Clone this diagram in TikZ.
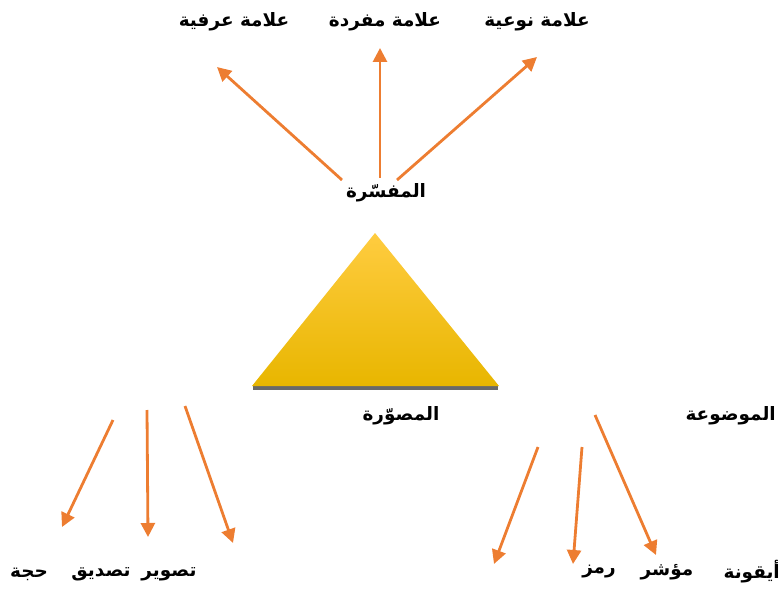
\documentclass[tikz,border=0pt]{standalone}
\usepackage{fontspec}
\usepackage{tikz}
\usetikzlibrary{arrows.meta,positioning}
\TeXXeTstate=1
\newfontfamily\arabicfont[Script=Arabic]{DejaVu Sans}
\definecolor{arrorange}{RGB}{237,125,49}
\definecolor{triatop}{RGB}{255,204,64}
\definecolor{triamid}{RGB}{255,194,0}
\definecolor{triabot}{RGB}{232,182,0}
\definecolor{shadowgray}{RGB}{105,105,105}
\tikzset{
  ar/.style={draw=arrorange, line width=2.8bp, -{Triangle[length=14bp,width=14bp]}},
  lbl/.style={font=\arabicfont\bfseries\fontsize{18.5}{22}\selectfont, inner sep=0pt}
}

\begin{document}
\begin{tikzpicture}[x=1bp,y=-1bp]
  \useasboundingbox (0,0) rectangle (783,593);
  % triangle with shadow
  \fill[shadowgray] (253,386) rectangle (498,390);
  \shade[top color=triatop, middle color=triamid, bottom color=triabot] (375,233) -- (499,386) -- (252,386) -- cycle;
  % labels
  \node[lbl] (orfia)  at (234,22)  {\beginR علامة عرفية\endR};
  \node[lbl] (mufrada) at (385,22) {\beginR علامة مفردة\endR};
  \node[lbl] (nawia)  at (537,22)  {\beginR علامة نوعية\endR};
  \node[lbl] (mufassira) at (386,193) {\beginR المفسّرة\endR};
  \node[lbl] (musawwira) at (401,416) {\beginR المصوّرة\endR};
  \node[lbl, anchor=east] (mawdua) at (776,416) {\beginR الموضوعة\endR};
  \node[lbl] (hujja)   at (29,574)  {\beginR حجة\endR};
  \node[lbl] (tasdiq)  at (101,574) {\beginR تصديق\endR};
  \node[lbl] (taswir)  at (169,574) {\beginR تصوير\endR};
  \node[lbl] (ramz)    at (599,572) {\beginR رمز\endR};
  \node[lbl] (muashir) at (667,572) {\beginR مؤشر\endR};
  \node[lbl, anchor=east] (ayquna) at (780,572) {\beginR أيقونة\endR};
  % arrow ends
  \coordinate (t1) at (342,180); \coordinate (t1e) at (217,67);
  \coordinate (t2) at (380,178); \coordinate (t2e) at (380,48);
  \coordinate (t3) at (397,180); \coordinate (t3e) at (537,57);
  \coordinate (l1) at (113,420); \coordinate (l1e) at (62,527);
  \coordinate (l2) at (147,410); \coordinate (l2e) at (148,537);
  \coordinate (l3) at (185,406); \coordinate (l3e) at (233,543);
  \coordinate (r1) at (538,447); \coordinate (r1e) at (494,564);
  \coordinate (r2) at (582,447); \coordinate (r2e) at (573,564);
  \coordinate (r3) at (595,415); \coordinate (r3e) at (656,555);
  % arrows
  \foreach \a in {t1,t2,t3,l1,l2,l3,r1,r2,r3}
    \draw[ar] (\a) -- (\a e);
\end{tikzpicture}
\end{document}
